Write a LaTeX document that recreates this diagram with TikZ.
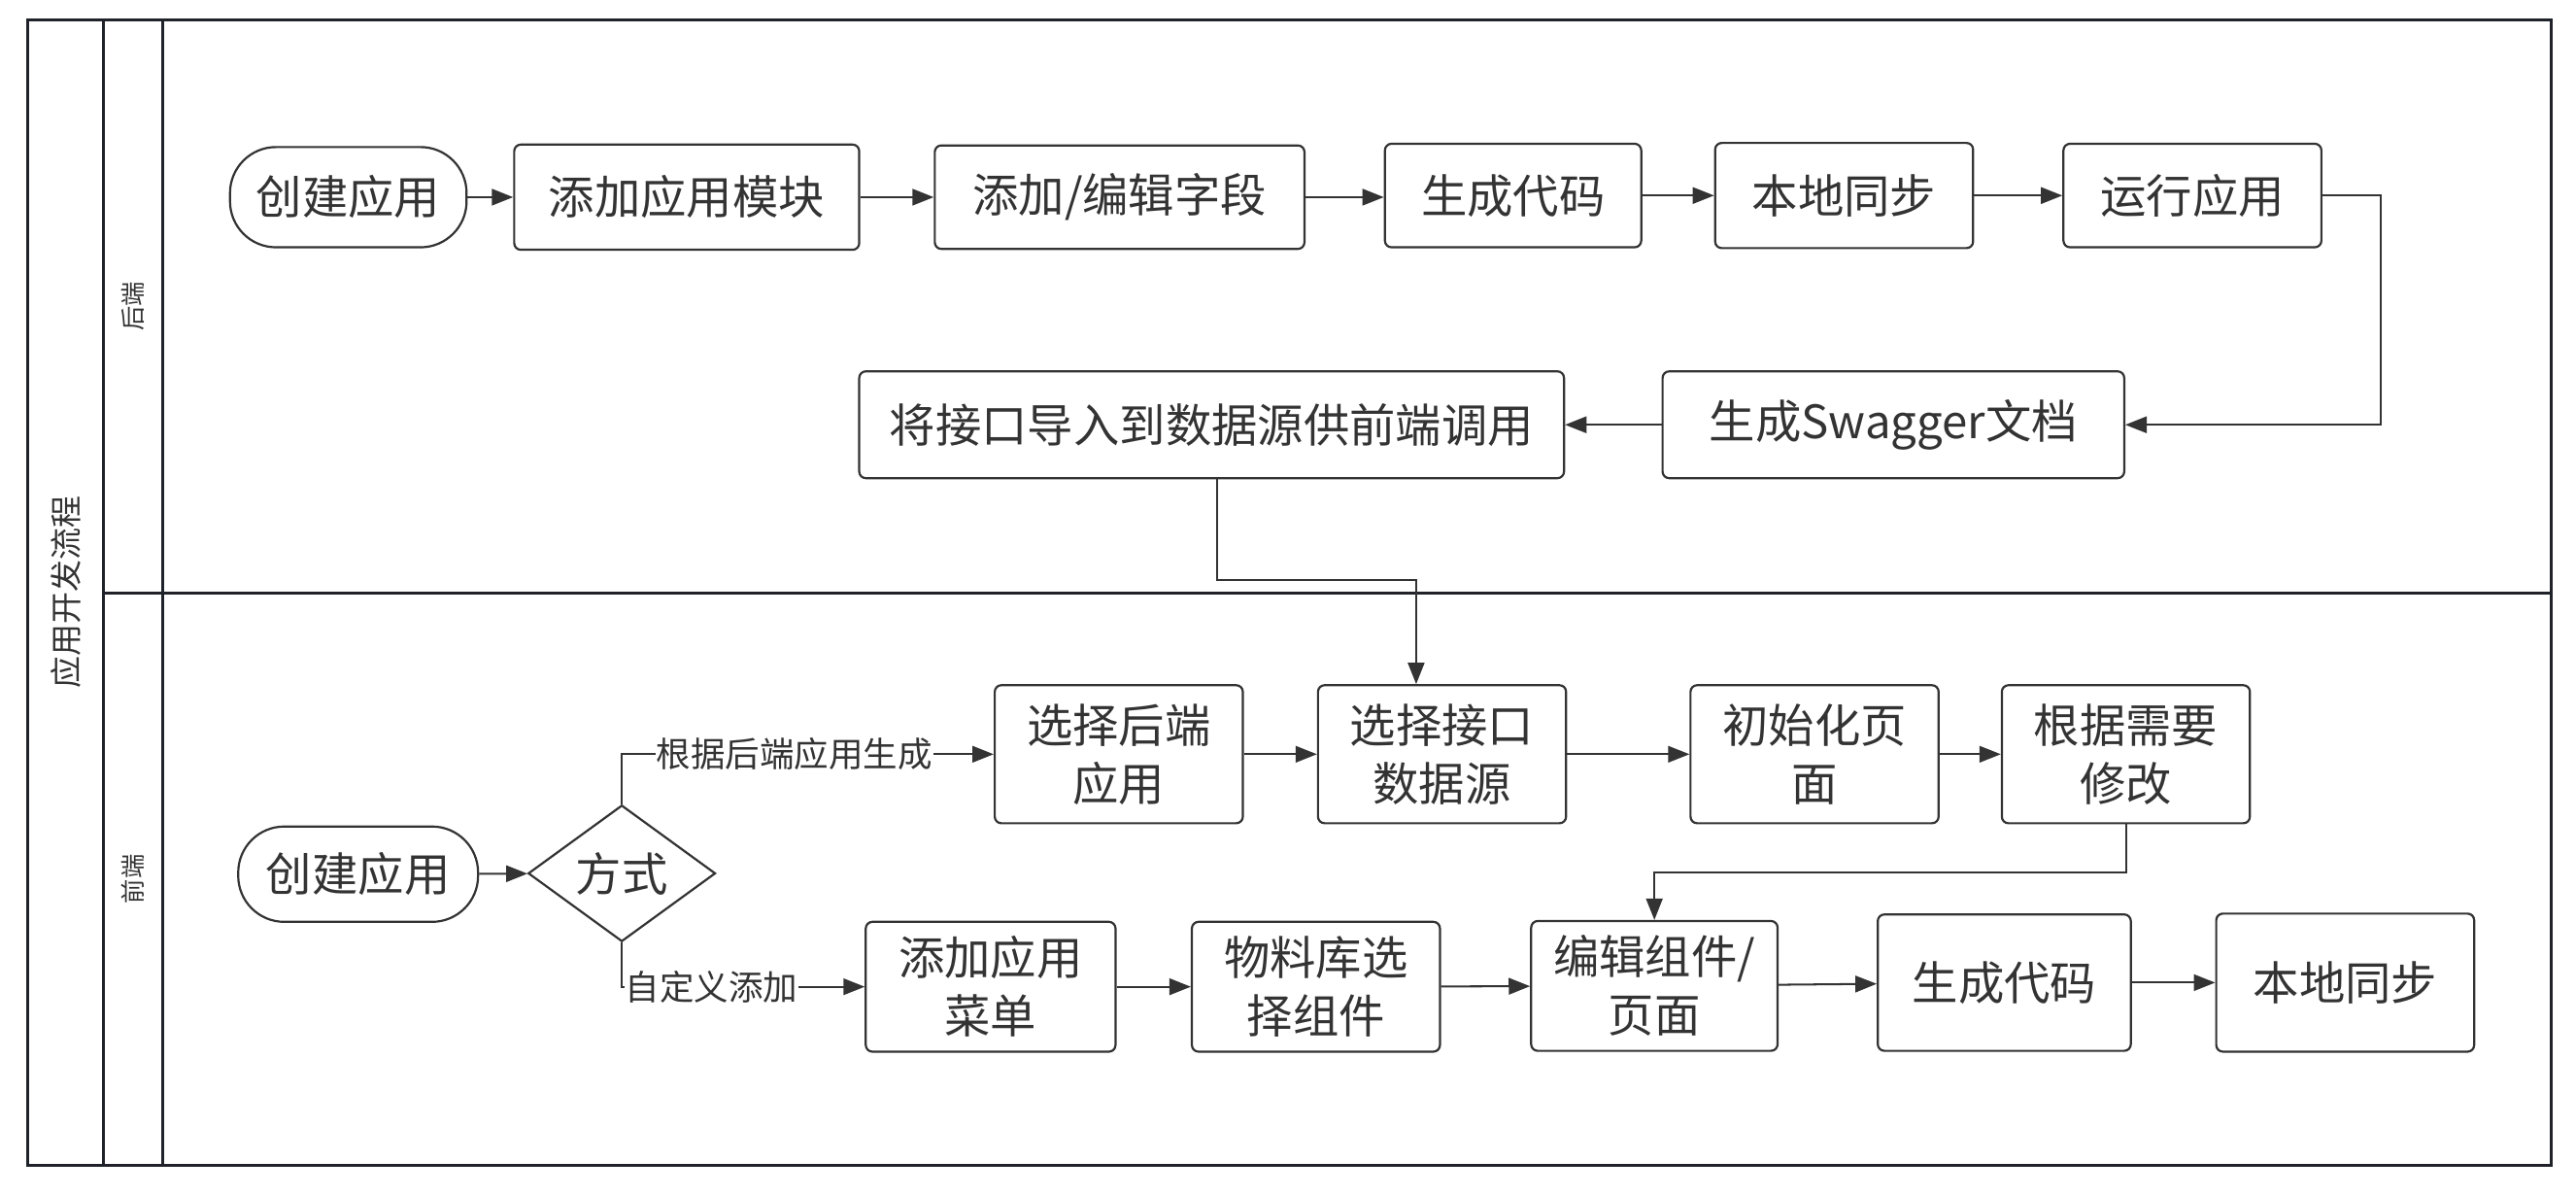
\documentclass[tikz,border=0pt]{standalone}
\usepackage{fontspec}
\setmainfont{Noto Sans CJK SC}
\usetikzlibrary{arrows.meta,shapes.geometric}
\definecolor{ink}{HTML}{333333}
\definecolor{framec}{HTML}{1F2329}
\tikzset{
  box/.style={draw=ink, line width=1.3pt, rounded corners=4pt, fill=white, text=ink,
    font=\fontsize{28}{35.5}\selectfont, align=center, inner sep=0pt},
  stad/.style={box, rounded corners=28pt},
  arr/.style={draw=ink, line width=1.2pt, -{Triangle[length=13pt,width=10pt]}},
  lbl/.style={fill=white, inner sep=0.5pt, text=ink, font=\fontsize{21}{25}\selectfont},
  lanelbl/.style={text=ink, rotate=90, inner sep=0pt},
  frameline/.style={draw=framec, line width=1.8pt}
}
\begin{document}
\begin{tikzpicture}[x=1pt,y=-1pt]
\fill[white] (0,0) rectangle (1568,727);
\useasboundingbox (0,0) rectangle (1568,727);
% frame
\draw[frameline] (17,12) rectangle (1553,709);
\draw[frameline] (63,12) -- (63,709);
\draw[frameline] (99,12) -- (99,709);
\draw[frameline] (63,361) -- (1553,361);
\node[lanelbl, font=\fontsize{19.5}{22}\selectfont] (title) at (40,360.5) {应用开发流程};
\node[lanelbl, font=\fontsize{15}{18}\selectfont] (lane1) at (81,186.5) {后端};
\node[lanelbl, font=\fontsize{15}{18}\selectfont] (lane2) at (81,535) {前端};
% backend row
\node[stad, minimum width=144pt, minimum height=61pt] (b1) at (212,120) {创建应用};
\node[box, minimum width=210pt, minimum height=64pt] (b2) at (418,120) {添加应用模块};
\node[box, minimum width=225pt, minimum height=63pt] (b3) at (681.5,120) {添加/编辑字段};
\node[box, minimum width=156pt, minimum height=63pt] (b4) at (921,119) {生成代码};
\node[box, minimum width=157pt, minimum height=64pt] (b5) at (1122.5,119) {本地同步};
\node[box, minimum width=157pt, minimum height=63pt] (b6) at (1334.5,119) {运行应用};
\node[box, minimum width=281pt, minimum height=65pt] (b7) at (1152.5,258.5) {生成Swagger文档};
\node[box, minimum width=429pt, minimum height=65pt] (b8) at (737.5,258.5) {将接口导入到数据源供前端调用};
% frontend
\node[stad, minimum width=146pt, minimum height=58pt] (f0) at (218,532) {创建应用};
\node[diamond, draw=ink, line width=1.3pt, fill=white, text=ink, inner sep=0pt,
  minimum width=114pt, minimum height=83pt, font=\fontsize{28}{35.5}\selectfont] (dia) at (378.5,531.5) {方式};
\node[box, minimum width=151pt, minimum height=84pt] (f1) at (681,459) {选择后端\\应用};
\node[box, minimum width=151pt, minimum height=84pt] (f2) at (877.75,459) {选择接口\\数据源};
\node[box, minimum width=151pt, minimum height=84pt] (f3) at (1104.5,459) {初始化页\\面};
\node[box, minimum width=151pt, minimum height=84pt] (f4) at (1294,459) {根据需要\\修改};
\node[box, minimum width=152pt, minimum height=79pt] (g1) at (603,600.5) {添加应用\\菜单};
\node[box, minimum width=151pt, minimum height=79pt] (g2) at (801,600.5) {物料库选\\择组件};
\node[box, minimum width=150pt, minimum height=79pt] (g3) at (1007,600) {编辑组件/\\页面};
\node[box, minimum width=154pt, minimum height=83pt] (g4) at (1220,598) {生成代码};
\node[box, minimum width=157pt, minimum height=84pt] (g5) at (1427.5,598) {本地同步};
% coordinates
\coordinate (j3) at (1449,119);
\coordinate (j1) at (741,353);
\coordinate (j1b) at (862,353);
\coordinate (j2) at (1294,531);
% backend connectors
\draw[arr] (b1) -- (b2);
\draw[arr] (b2) -- (b3);
\draw[arr] (b3.east) -- (b4.west |- b3.east);
\draw[arr] (b4) -- (b5);
\draw[arr] (b5) -- (b6);
\draw[arr] (b6.east) -- (j3) |- (b7.east);
\draw[arr] (b7) -- (b8);
\draw[arr] (j1 |- b8.south) -- (j1) -- (j1b) -- (j1b |- f2.north);
% frontend connectors
\draw[arr] (f0) -- (dia);
\draw[arr] (dia.north) |- node[lbl, pos=0.732] (l1) {根据后端应用生成} (f1.west);
\draw[arr] (dia.south) |- node[lbl, pos=0.685] (l2) {自定义添加} (g1.west);
\draw[arr] (f1) -- (f2);
\draw[arr] (f2) -- (f3);
\draw[arr] (f3) -- (f4);
\draw[arr] (f4.south) -- (j2) -| (g3.north);
\draw[arr] (g1) -- (g2);
\draw[arr] (g2) -- (g3);
\draw[arr] (g3) -- (g4);
\draw[arr] (g4) -- (g5);
\end{tikzpicture}
\end{document}
